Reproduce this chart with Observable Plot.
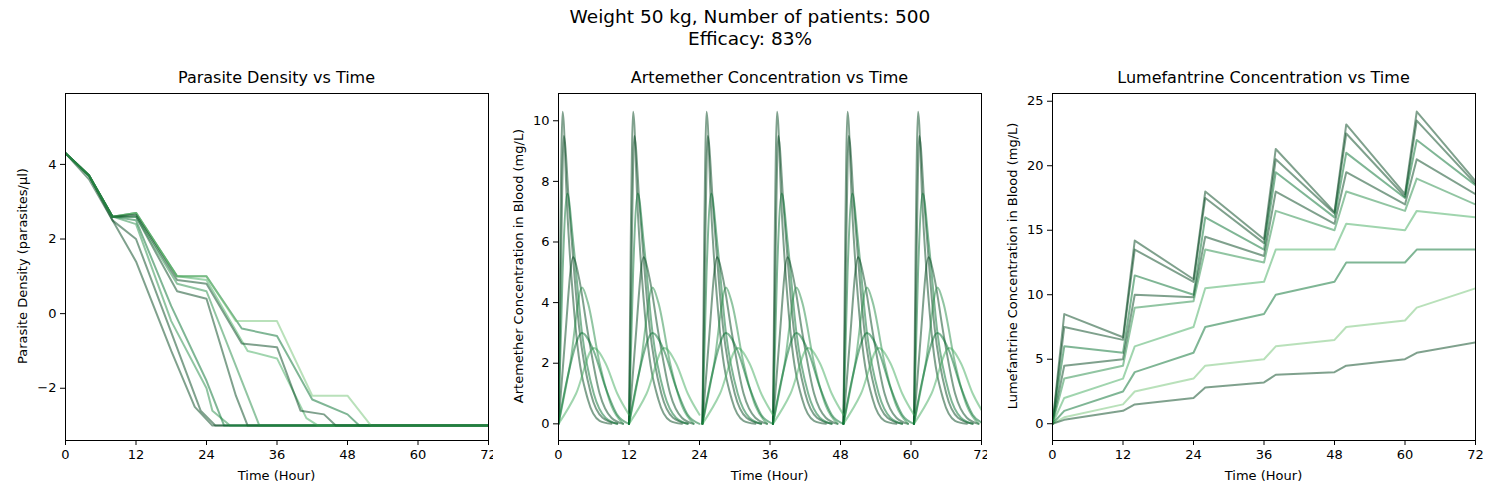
<!DOCTYPE html>
<html><head><meta charset="utf-8">
<script src="https://cdn.jsdelivr.net/npm/d3@7"></script>
<script src="https://cdn.jsdelivr.net/npm/@observablehq/plot@0.6"></script>
<style>
body{margin:0;background:#fff;font-family:"DejaVu Sans",sans-serif;}
#wrap{position:relative;width:1500px;height:500px;}
#title{position:absolute;top:6px;left:0;width:1500px;text-align:center;font-size:18.5px;line-height:22px;color:#000;}
.p{position:absolute;top:60px;width:500px;height:440px;}
.pt{position:absolute;top:8px;text-align:center;font-size:16px;}
.xl{position:absolute;top:408px;left:65px;width:423px;text-align:center;font-size:13px;}
.yl{position:absolute;top:206px;font-size:13px;white-space:nowrap;transform:translate(-50%,-50%) rotate(-90deg);}
</style></head><body>
<div id="wrap">
<div id="title">Weight 50 kg, Number of patients: 500<br>Efficacy: 83%</div>
<div class="p" id="p1" style="left:0"></div>
<div class="p" id="p2" style="left:493px"></div>
<div class="p" id="p3" style="left:987px"></div>
</div>
<script>
const xTicks=[0,12,24,36,48,60,72];
const greens=["#00441b","#00441b","#006d2c","#00441b","#238b45","#41ab5d","#006d2c","#74c476","#00441b","#238b45"];

// Parasite density patients: [time, log density]
const parasite=[
 [[0,4.3],[4,3.6],[8,2.5],[12,1.4],[18,-1],[22,-2.5],[25,-3],[72,-3]],
 [[0,4.3],[4,3.7],[8,2.5],[12,2.0],[18,-0.5],[23,-2.6],[25.5,-3],[72,-3]],
 [[0,4.3],[4,3.7],[8,2.6],[12,2.5],[18,0.2],[24,-1.8],[27,-3],[72,-3]],
 [[0,4.3],[4,3.7],[8,2.6],[12,2.6],[19,0.6],[24,0.4],[29,-2.2],[31,-3],[72,-3]],
 [[0,4.3],[4,3.7],[8,2.6],[12,2.6],[19,0.8],[24,0.6],[30,-1.8],[33,-3],[72,-3]],
 [[0,4.3],[4,3.7],[8,2.6],[12,2.7],[19,1.0],[24,0.9],[31,-1.0],[36,-1.2],[41,-2.8],[43,-3],[72,-3]],
 [[0,4.3],[4,3.7],[8,2.6],[12,2.7],[19,1.0],[24,1.0],[30,-0.4],[36,-0.6],[42,-2.3],[48,-2.7],[50,-3],[72,-3]],
 [[0,4.3],[4,3.7],[8,2.6],[12,2.7],[19,1.0],[24,1.0],[29,-0.2],[36,-0.2],[42,-2.2],[48,-2.2],[52,-3],[72,-3]],
 [[0,4.3],[4,3.7],[8,2.6],[12,2.65],[19,0.9],[24,0.8],[30,-0.8],[36,-0.9],[40,-2.6],[44,-2.7],[46,-3],[72,-3]],
 [[0,4.3],[4,3.7],[8,2.6],[12,2.4],[18,-0.2],[24,-2.0],[25,-2.6],[28,-3],[72,-3]]
];
// Artemether dose times and per-dose profiles [hours after dose, mg/L]
const doseTimes=[0,12,24.5,36.5,48.5,60.5];
const artProfiles=[
 [[0,0],[0.3,6],[0.7,10.3],[1.5,7],[3,3],[5,0.8],[7,0.1],[9,0]],
 [[0,0],[0.4,5],[0.9,9.5],[1.8,7.2],[3.5,3.2],[5.5,1],[7.5,0.2],[10,0]],
 [[0,0],[0.7,5],[1.5,7.6],[2.5,6],[4,3],[6,1],[8,0.2],[10,0]],
 [[0,0],[1,2.5],[2.5,5.5],[3.5,4.8],[5,3],[7,1],[9,0.2],[11,0]],
 [[0,0],[2,2],[4,4.5],[5,4],[7,2],[9,0.6],[11,0]],
 [[0,0],[3,1],[6,2.5],[8,2],[10,1],[12,0.3]],
 [[0,0],[1.5,1.5],[4,3],[6,2.4],[8,1.2],[10,0.3],[12,0]]
];
// Lumefantrine patients at these times
const lumTimes=[0,2,12,14,24,26,36,38,48,50,60,62,72];
const lum=[
 [0,8.5,6.7,14.2,11.2,18,14.3,21.3,16.4,23.2,17.8,24.2,18.8],
 [0,7.5,6.5,13.5,11,17.5,14,20.5,16.3,22.5,17.6,23.5,18.6],
 [0,6,5.5,11.5,10,16,13.5,19.5,16,21,17.5,22,18.5],
 [0,4.5,5,10,9.8,14.5,13,18,15.5,19.5,17,20.5,17.8],
 [0,3.5,4.5,9,9.5,13.5,12.5,16.5,15,18,16.5,19,17],
 [0,2,3.5,6,7.5,10.5,11,13.5,13.5,15.5,15,16.5,16],
 [0,1,2.5,4,5.5,7.5,8.5,10,11,12.5,12.5,13.5,13.5],
 [0,0.5,1.5,2.5,3.5,4.5,5,6,6.5,7.5,8,9,10.5],
 [0,0.3,1,1.5,2,2.8,3.2,3.8,4,4.5,5,5.5,6.3]
];

const pTable=parasite.flatMap((pts,i)=>pts.map(([t,v])=>({t,v,z:i,c:i})));
const aTable=[];
artProfiles.forEach((prof,i)=>doseTimes.forEach((d,j)=>prof.forEach(([h,v])=>aTable.push({t:d+h,v,z:i*10+j,c:i}))));
const lTable=lum.flatMap((vals,i)=>vals.map((v,k)=>({t:lumTimes[k],v,z:i,c:i})));

function panel(el,title,data,yDomain,yTicks,yLabel,curve,ylx){
  const p=Plot.plot({
    width:500,height:440,marginLeft:65,marginRight:12,marginTop:33,marginBottom:60,
    style:{fontFamily:"DejaVu Sans",fontSize:"13px",color:"#000",background:"#fff"},
    x:{domain:[0,72],ticks:xTicks,label:null,tickSize:5},
    y:{domain:yDomain,ticks:yTicks,label:null,tickSize:5},
    marks:[
      Plot.line(data,{x:"t",y:"v",z:"z",stroke:d=>greens[d.c%10],strokeOpacity:0.5,strokeWidth:2,curve,clip:true}),
      Plot.frame({stroke:"#000"})
    ]
  });
  const div=document.getElementById(el);
  div.appendChild(p);
  const t=document.createElement("div");t.className="pt";t.textContent=title;
  t.style.left="65px";t.style.width="423px";div.appendChild(t);
  const xl=document.createElement("div");xl.className="xl";xl.textContent="Time (Hour)";div.appendChild(xl);
  const yl=document.createElement("div");yl.className="yl";yl.textContent=yLabel;yl.style.left=ylx+"px";div.appendChild(yl);
}
panel("p1","Parasite Density vs Time",pTable,[-3.4,5.9],[-2,0,2,4],"Parasite Density (parasites/μl)","linear",22);
panel("p2","Artemether Concentration vs Time",aTable,[-0.55,10.9],[0,2,4,6,8,10],"Artemether Concentration in Blood (mg/L)","monotone-x",25);
panel("p3","Lumefantrine Concentration vs Time",lTable,[-1.3,25.6],[0,5,10,15,20,25],"Lumefantrine Concentration in Blood (mg/L)","linear",25);
</script>
</body></html>
